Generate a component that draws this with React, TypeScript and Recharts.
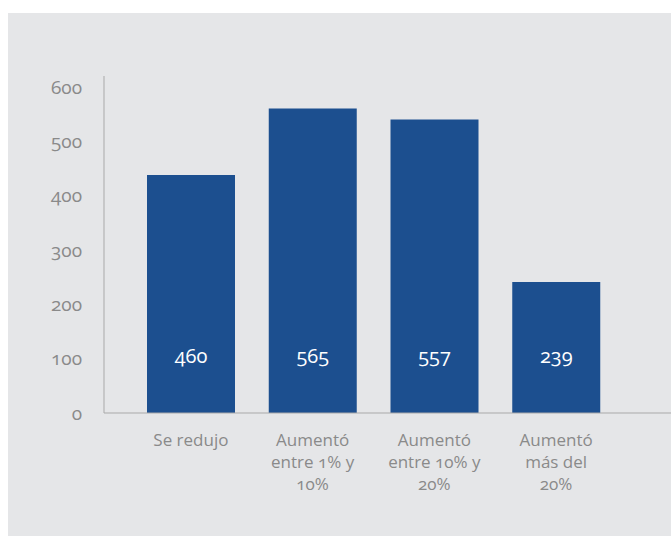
import React from "react";
import { BarChart, Bar, XAxis, YAxis, LabelList } from "recharts";

const categories = ["Se redujo", "Aumentó entre 1% y 10%", "Aumentó entre 10% y 20%", "Aumentó más del 20%"];
const categoryLines = [["Se redujo"], ["Aumentó", "entre 1% y", "10%"], ["Aumentó", "entre 10% y", "20%"], ["Aumentó", "más del", "20%"]];
const barHeights = [438, 560, 540, 241];
const barLabels = ["460", "565", "557", "239"];
const yTicks = [0, 100, 200, 300, 400, 500, 600];

const data = categories.map((c, i) => ({ name: c, value: barHeights[i], label: barLabels[i], idx: i }));

const FONT = "'Open Sans', 'Noto Sans', sans-serif";
const GRAY = "#8a8a8a";

const CatTick = (props: any) => {
  const { x, y, index } = props;
  const lines = categoryLines[index] || [];
  return (
    <g>
      {lines.map((l, i) => (
        <text key={i} x={x} y={y + 18 + i * 22} textAnchor="middle" dominantBaseline="central"
          fill={GRAY} fontSize={17} fontFamily={FONT} style={{ fontVariantNumeric: "oldstyle-nums" }}>
          {l}
        </text>
      ))}
    </g>
  );
};

const InLabel = (props: any) => {
  const { x, y, width, height, index } = props;
  return (
    <text x={x + width / 2} y={y + height - 58} textAnchor="middle" dominantBaseline="central"
      fill="#ffffff" fontSize={20} fontFamily={FONT} style={{ fontVariantNumeric: "oldstyle-nums" }}>
      {barLabels[index]}
    </text>
  );
};

export default function App() {
  return (
    <div style={{ position: "absolute", left: 0, top: 0, width: 671, height: 536, background: "#ffffff", overflow: "hidden" }}>
      <div style={{ position: "absolute", left: 8, top: 13, width: 663, height: 523, background: "#e5e6e8" }}>
        <BarChart width={663} height={523} data={data} margin={{ top: 63, right: 0, left: 0, bottom: 43 }}>
          <YAxis
            width={96}
            domain={[0, 620]}
            ticks={yTicks}
            interval={0}
            tickLine={false}
            tickSize={0}
            tickMargin={22}
            axisLine={{ stroke: "#a9a9a9" }}
            tick={{ fill: GRAY, fontSize: 19, fontFamily: FONT, style: { fontVariantNumeric: "oldstyle-nums" } } as any}
          />
          <XAxis
            dataKey="name"
            height={80}
            padding={{ left: 26, right: 54 }}
            tickLine={false}
            interval={0}
            axisLine={{ stroke: "#a9a9a9" }}
            tick={<CatTick />}
          />
          <Bar dataKey="value" fill="#1c4f8f" barSize={88} isAnimationActive={false}>
            <LabelList dataKey="label" content={<InLabel />} />
          </Bar>
        </BarChart>
      </div>
    </div>
  );
}
